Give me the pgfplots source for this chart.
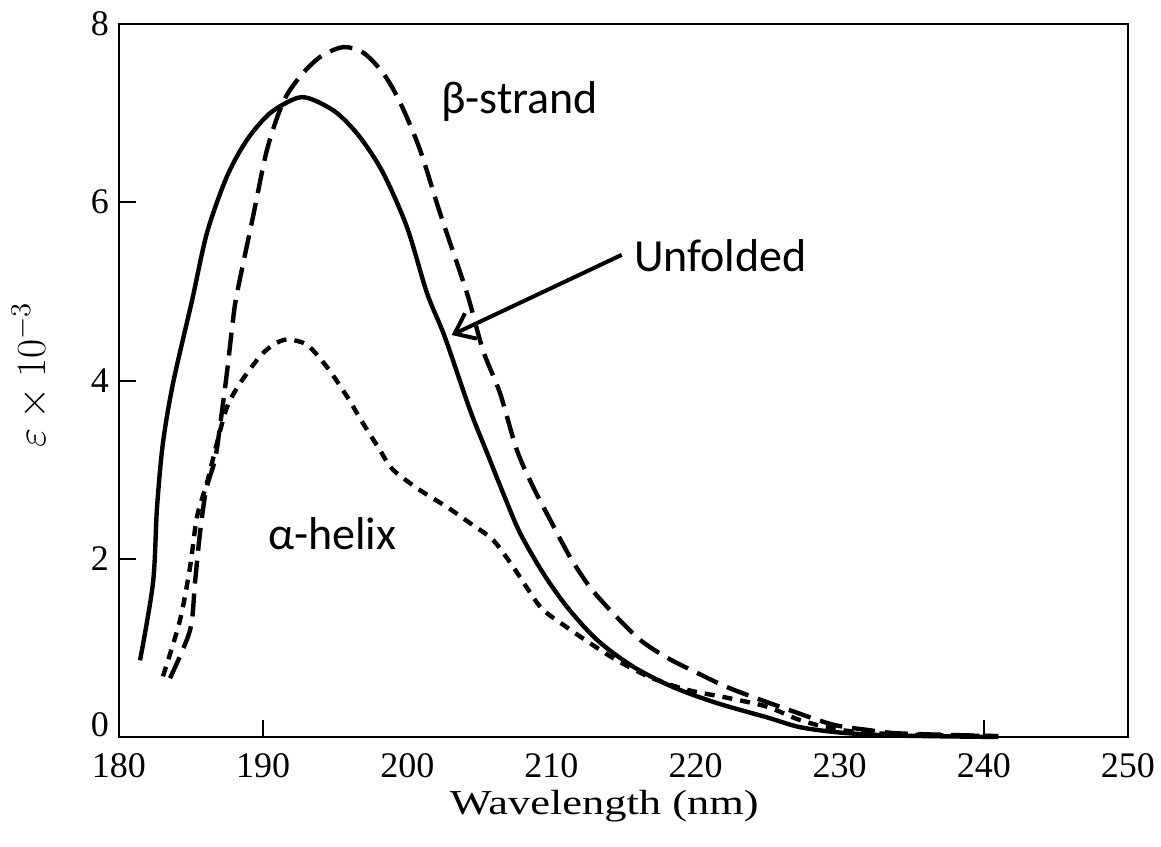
\documentclass[border=0pt]{standalone}
\usepackage{fontspec}
\setmainfont{Liberation Serif}
\newfontfamily\annfont{Carlito}
\usepackage{pgfplots}
\pgfplotsset{compat=1.18}
\usetikzlibrary{arrows.meta}
\begin{document}
\begin{tikzpicture}
\path[use as bounding box] (-59.5pt,-54.5pt) rectangle (521pt,368.5pt);
\begin{axis}[
  at={(0,0)}, anchor=south west,
  scale only axis, width=504.5pt, height=356.5pt,
  xmin=180, xmax=250, ymin=0, ymax=8,
  axis line style={line width=1pt},
  xtick={190,240}, xticklabels={},
  extra x ticks={180,190,...,250},
  extra x tick style={major tick length=0pt},
  ytick={2,4,6,8},
  extra y ticks={0},
  extra y tick style={major tick length=0pt, yticklabel style={yshift=6pt}},
  tick align=inside, xtick pos=bottom, ytick pos=left,
  major tick length=8.5pt,
  tick style={line width=1pt, black},
  /pgf/number format/assume math mode=true,
  xticklabel style={font=\fontsize{18}{21}\selectfont, yshift=-4.5pt},
  yticklabel style={font=\fontsize{18}{21}\selectfont, xshift=-1.5pt},
  xlabel={Wavelength (nm)},
  xlabel style={at={(axis description cs:0.481,-0.097)}, anchor=center, font=\fontsize{17.5}{20}\selectfont, xscale=1.27},
  ylabel={$\varepsilon\times10^{-3}$},
  ylabel style={at={(axis description cs:-0.0882,0.508)}, anchor=center, font=\fontsize{19.5}{22}\selectfont},
  clip=false,
]
% Unfolded (solid)
\addplot[black, line width=2.2pt, smooth, tension=0.5] coordinates {
(181.46,0.86) (182.36,1.73) (182.64,2.58) (183.05,3.30) (183.75,3.97)
(185.07,4.90) (186.11,5.66) (187.49,6.29) (188.88,6.70) (190.48,7.00)
(192.35,7.17) (193.46,7.15) (195.13,7.00) (196.72,6.73) (198.32,6.33)
(199.98,5.72) (201.37,4.98) (202.6,4.49) (204.35,3.67) (205.53,3.19)
(206.64,2.74) (207.82,2.29) (209.42,1.84) (211.08,1.46) (213.16,1.09)
(215.66,0.79) (218.44,0.56) (221.49,0.38) (224.96,0.22) (227.25,0.11)
(230.0,0.05) (233,0.02) (236,0.01) (241,0.0)
};
% beta-strand (dashed)
\addplot[black, line width=2.2pt, smooth, tension=0.5, dash pattern=on 11.5pt off 5pt] coordinates {
(183.54,0.66) (184.93,1.20) (185.27,1.73) (185.62,2.29) (186.04,2.77)
(186.66,3.11) (187.0,3.48) (187.49,4.09) (187.91,4.68) (188.19,4.98)
(189.30,5.84) (190.27,6.59) (191.38,7.12) (192.56,7.41) (193.95,7.63)
(195.54,7.74) (196.93,7.68) (198.32,7.45) (199.50,7.12) (200.88,6.59)
(202.27,5.88) (204.14,4.98) (205.25,4.34) (206.43,3.86) (207.6,3.22)
(208.72,2.81) (209.9,2.44) (211.29,2.02) (212.68,1.68) (214.27,1.39)
(216.15,1.09) (218.02,0.89) (220.1,0.72) (222.18,0.56) (224.47,0.42)
(226.55,0.30) (229.5,0.14) (231.9,0.08) (234.2,0.04) (241,0.01)
};
% alpha-helix (dotted)
\addplot[black, line width=2.2pt, smooth, tension=0.5, dash pattern=on 5pt off 4pt] coordinates {
(183.05,0.68) (184.23,1.31) (184.93,1.91) (185.41,2.47) (186.1,2.85)
(186.8,3.30) (187.49,3.70) (188.4,3.97) (189.78,4.27) (190.7,4.40)
(191.66,4.46) (193.04,4.40) (194.43,4.15) (195.82,3.82) (196.93,3.52)
(198.1,3.22) (199.0,3.0) (200.88,2.77) (202.76,2.58) (204.35,2.40)
(205.95,2.21) (207.34,1.91) (208.4,1.65) (209.4,1.43) (211.08,1.23)
(212.7,1.05) (214.55,0.86) (216.84,0.67) (219.4,0.53) (222.2,0.44)
(224.96,0.34) (227.25,0.19) (230.0,0.08) (234,0.03) (241,0.01)
};
\node[anchor=base west, xshift=-3pt, font=\annfont\fontsize{23}{27}\selectfont] at (axis cs:202.27,7.00) {β-strand};
\node[anchor=base west, xshift=-3pt, font=\annfont\fontsize{23}{27}\selectfont] at (axis cs:215.66,5.22) {Unfolded};
\node[anchor=base west, xshift=-3pt, font=\annfont\fontsize{23}{27}\selectfont] at (axis cs:190.27,2.10) {α-helix};
\draw[line width=2pt, -{Straight Barb[length=9pt,width=14pt]}] (axis cs:214.88,5.41) -- (axis cs:203.08,4.51);
\end{axis}
\end{tikzpicture}
\end{document}
